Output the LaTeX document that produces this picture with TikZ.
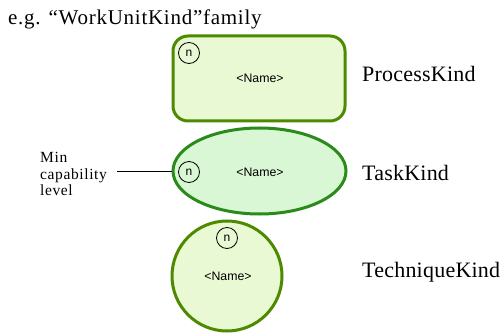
\documentclass[tikz,border=0pt]{standalone}
\usepackage{fontspec}
\setmainfont{Liberation Serif}
\newfontfamily\namefont{Liberation Sans}
\newfontfamily\titlefont[LetterSpace=3.5]{Liberation Serif}
\newfontfamily\kindfont[LetterSpace=1.0]{Liberation Serif}
\newfontfamily\minfont[LetterSpace=4.0]{Liberation Serif}
\usetikzlibrary{shapes.geometric}
\definecolor{rectline}{HTML}{4D8A00}
\definecolor{rectfill}{HTML}{E9F9D4}
\definecolor{ellline}{HTML}{2A8A1A}
\definecolor{ellfill}{HTML}{D9F7D4}
\tikzset{
  kindlabel/.style={anchor=west,inner sep=0pt,font=\kindfont\fontsize{22}{24}\selectfont},
  namelabel/.style={inner sep=0pt,font=\namefont\fontsize{12.3}{14}\selectfont},
  ncircle/.style={circle,draw=black,line width=0.8pt,minimum size=21pt,inner sep=0pt,font=\namefont\fontsize{12}{14}\selectfont},
}
\begin{document}
\begin{tikzpicture}[x=1pt,y=-1pt]
\useasboundingbox (0,0) rectangle (503,334);
\node[anchor=west,inner sep=0pt,font=\titlefont\fontsize{21}{23}\selectfont] (title) at (8,19) {e.g. “WorkUnitKind”family};
% process kind
\node[draw=rectline,fill=rectfill,line width=3pt,rounded corners=15pt,minimum width=172pt,minimum height=85pt] (proc) at (259,78.5) {};
\node[ncircle] (pn) at (189,53) {n};
\node[namelabel] (pname) at (260,78) {<Name>};
\node[kindlabel] (pk) at (362,74) {ProcessKind};
% task kind
\node[ellipse,draw=ellline,fill=ellfill,line width=3pt,minimum width=173pt,minimum height=86pt,inner sep=0pt] (task) at (259.5,171) {};
\node[ncircle] (tn) at (189,172) {n};
\node[namelabel] (tname) at (260,172) {<Name>};
\node[kindlabel] (tk) at (362,173) {TaskKind};
\node[anchor=west,align=left,inner sep=0pt,font=\minfont\fontsize{15.5}{16.8}\selectfont] (minc) at (40,174) {Min\\capability\\level};
\coordinate (mcend) at (117,171);
\draw[line width=0.8pt] (mcend) -- (task.west);
% technique kind
\node[circle,draw=rectline,fill=rectfill,line width=3pt,minimum size=110pt,inner sep=0pt] (tech) at (227,276) {};
\node[ncircle] (cn) at (227,238) {n};
\node[namelabel] (cname) at (228,276) {<Name>};
\node[kindlabel] (ck) at (362,272) {TechniqueKind};
\end{tikzpicture}
\end{document}
